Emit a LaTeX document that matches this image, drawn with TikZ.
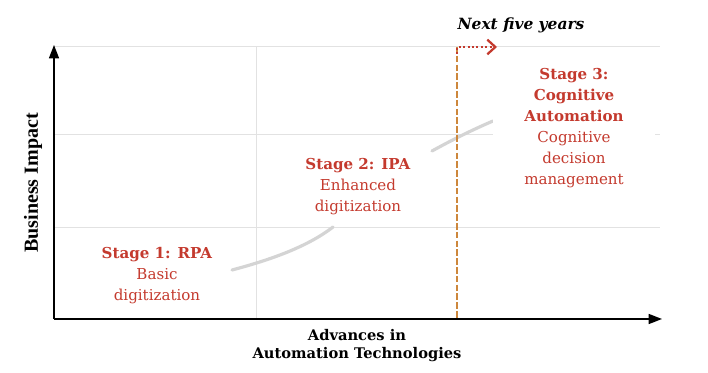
\documentclass[tikz,border=0pt]{standalone}
\usepackage{fontspec}
\setmainfont{DejaVu Serif}
\newfontfamily\axisfont{Liberation Serif}
\usetikzlibrary{arrows.meta}
\definecolor{stagered}{RGB}{196,58,46}
\definecolor{gridgray}{RGB}{226,226,226}
\definecolor{curvegray}{RGB}{212,212,212}
\definecolor{nowbrown}{RGB}{205,135,60}

\begin{document}
\begin{tikzpicture}[x=0.75pt,y=-0.75pt,
          gridline/.style={draw=gridgray,line width=0.75pt},
          axisline/.style={draw=black,line width=1.1pt,-{Triangle[length=10pt,width=7.5pt]}},
          trend/.style={draw=curvegray,line width=2.4pt,line cap=round},
          stagetext/.style={text=stagered,align=center,inner sep=0pt,font=\fontsize{11.3}{15.75}\selectfont},
          axistext/.style={align=center,inner sep=0pt,font=\bfseries\fontsize{11}{13.5}\selectfont}]
          \useasboundingbox (0,0) rectangle (708,373);
          \coordinate (origin) at (54,319);
          \coordinate (ytip) at (54,45);
          \coordinate (xtip) at (662,319);
          \coordinate (nowtop) at (457,47);
          \coordinate (nowbase) at (457,319);
          \coordinate (nowtick) at (457,54);
          \coordinate (fivetip) at (497,47);
          \coordinate (rpaend) at (232,270);
          \coordinate (ipastart) at (333,227);
          \coordinate (ipaend) at (432,151);
          \coordinate (cogstart) at (493,121);
          \draw [gridline] (54,47) -- (660,47);
          \draw [gridline] (54,135) -- (660,135);
          \draw [gridline] (54,228) -- (660,228);
          \draw [gridline] (256,47) -- (256,319);
          \draw [trend] (rpaend) .. controls (266,261) and (306,248) .. (ipastart);
          \draw [trend] (ipaend) .. controls (452,140) and (472,130) .. (cogstart);
          \draw [draw=nowbrown,line width=0.9pt,dash pattern=on 5pt off 1.6pt] (nowtop) -- (nowbase);
          \draw [draw=stagered,line width=1.7pt,dash pattern=on 1.5pt off 1.8pt,-{Straight Barb[length=6pt,width=11pt]}] (nowtick) -- (nowtop) -- (fivetip);
          \node [stagetext] (rpa) at (157,276) {\textbf{Stage 1: RPA}\\Basic\\digitization};
          \node [stagetext] (ipa) at (358,187) {\textbf{Stage 2: IPA}\\Enhanced\\digitization};
          \node [stagetext,fill=white,minimum width=121pt,inner ysep=2pt] (cog) at (574,128) {\textbf{Stage 3:}\\\textbf{Cognitive}\\\textbf{Automation}\\Cognitive\\decision\\management};
          \node [axistext,font=\bfseries\itshape\fontsize{11.6}{13.5}\selectfont] (fiveyears) at (521,25) {Next five years};
          \node [axistext] (xlabel) at (357,346) {Advances in\\Automation Technologies};
          \node [axistext,font=\axisfont\bfseries\fontsize{15}{17}\selectfont,rotate=90] (ylabel) at (33,183) {Business Impact};
          \draw [axisline] (origin) -- (ytip);
          \draw [axisline] (origin) -- (xtip);
        \end{tikzpicture}
\end{document}
